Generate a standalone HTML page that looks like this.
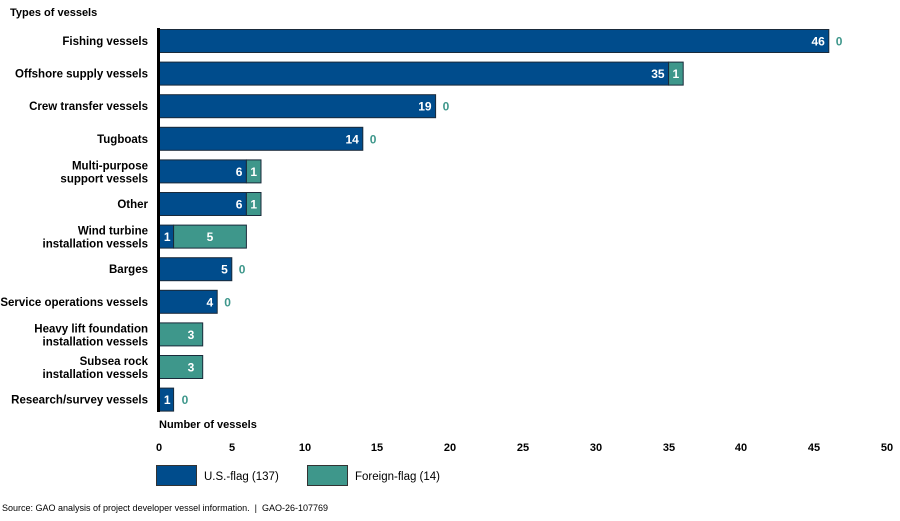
<!DOCTYPE html>
<html><head><meta charset="utf-8"><style>
body{margin:0;background:#fff;width:900px;height:516px;overflow:hidden}
text{font-family:"Liberation Sans",Arial,sans-serif}
.l{font-size:11.5px;font-weight:bold;text-anchor:end}
.v{font-size:12px;font-weight:bold;fill:#fff}
.z{font-size:12px;font-weight:bold;fill:#3e978b}
.u{fill:#004c8c;stroke:#1a2a3a;stroke-width:1}
.f{fill:#3e978b;stroke:#1a2a3a;stroke-width:1}
</style></head><body>
<svg width="900" height="516" xmlns="http://www.w3.org/2000/svg">
<text x="10" y="16" font-size="11" font-weight="bold">Types of vessels</text>

<text class="l" x="148" y="45">Fishing vessels</text>
<rect class="u" x="159" y="29.5" width="669.8" height="23"/>
<text class="v" x="824.8" y="45.5" text-anchor="end">46</text>
<text class="z" x="835.8" y="45.5">0</text>

<text class="l" x="148" y="77.6">Offshore supply vessels</text>
<rect class="u" x="159" y="62.1" width="509.6" height="23"/>
<rect class="f" x="668.6" y="62.1" width="14.6" height="23"/>
<text class="v" x="664.6" y="78.1" text-anchor="end">35</text>
<text class="v" x="675.9" y="78.1" text-anchor="middle">1</text>

<text class="l" x="148" y="110.2">Crew transfer vessels</text>
<rect class="u" x="159" y="94.7" width="276.6" height="23"/>
<text class="v" x="431.6" y="110.7" text-anchor="end">19</text>
<text class="z" x="442.6" y="110.7">0</text>

<text class="l" x="148" y="142.8">Tugboats</text>
<rect class="u" x="159" y="127.3" width="203.8" height="23"/>
<text class="v" x="358.8" y="143.3" text-anchor="end">14</text>
<text class="z" x="369.8" y="143.3">0</text>

<text class="l" x="148" y="169.4">Multi-purpose</text>
<text class="l" x="148" y="182.4">support vessels</text>
<rect class="u" x="159" y="159.9" width="87.4" height="23"/>
<rect class="f" x="246.4" y="159.9" width="14.6" height="23"/>
<text class="v" x="242.4" y="175.9" text-anchor="end">6</text>
<text class="v" x="253.7" y="175.9" text-anchor="middle">1</text>

<text class="l" x="148" y="208">Other</text>
<rect class="u" x="159" y="192.5" width="87.4" height="23"/>
<rect class="f" x="246.4" y="192.5" width="14.6" height="23"/>
<text class="v" x="242.4" y="208.5" text-anchor="end">6</text>
<text class="v" x="253.7" y="208.5" text-anchor="middle">1</text>

<text class="l" x="148" y="234.6">Wind turbine</text>
<text class="l" x="148" y="247.6">installation vessels</text>
<rect class="u" x="159" y="225.1" width="14.6" height="23"/>
<rect class="f" x="173.6" y="225.1" width="72.8" height="23"/>
<text class="v" x="170.6" y="241.1" text-anchor="end">1</text>
<text class="v" x="210" y="241.1" text-anchor="middle">5</text>

<text class="l" x="148" y="273.2">Barges</text>
<rect class="u" x="159" y="257.7" width="72.8" height="23"/>
<text class="v" x="227.8" y="273.7" text-anchor="end">5</text>
<text class="z" x="238.8" y="273.7">0</text>

<text class="l" x="148" y="305.8">Service operations vessels</text>
<rect class="u" x="159" y="290.3" width="58.2" height="23"/>
<text class="v" x="213.2" y="306.3" text-anchor="end">4</text>
<text class="z" x="224.2" y="306.3">0</text>

<text class="l" x="148" y="332.4">Heavy lift foundation</text>
<text class="l" x="148" y="345.4">installation vessels</text>
<rect class="f" x="159" y="322.9" width="43.7" height="23"/>
<text class="v" x="191" y="338.9" text-anchor="middle">3</text>

<text class="l" x="148" y="365">Subsea rock</text>
<text class="l" x="148" y="378">installation vessels</text>
<rect class="f" x="159" y="355.5" width="43.7" height="23"/>
<text class="v" x="191" y="371.5" text-anchor="middle">3</text>

<text class="l" x="148" y="403.6">Research/survey vessels</text>
<rect class="u" x="159" y="388.1" width="14.6" height="23"/>
<text class="v" x="170.6" y="404.1" text-anchor="end">1</text>
<text class="z" x="181.6" y="404.1">0</text>

<line x1="158.5" y1="28" x2="158.5" y2="412" stroke="#000" stroke-width="3"/>
<text x="159" y="428" font-size="11" font-weight="bold">Number of vessels</text>
<g font-size="11" font-weight="bold" text-anchor="middle">
<text x="159" y="451">0</text><text x="232" y="451">5</text><text x="305" y="451">10</text><text x="377" y="451">15</text><text x="450" y="451">20</text><text x="523" y="451">25</text><text x="596" y="451">30</text><text x="669" y="451">35</text><text x="741" y="451">40</text><text x="814" y="451">45</text><text x="887" y="451">50</text>
</g>
<rect x="156.5" y="465.5" width="40" height="20" fill="#004c8c" stroke="#333"/>
<text x="204" y="480" font-size="11.5">U.S.-flag (137)</text>
<rect x="307.5" y="465.5" width="40" height="20" fill="#3e978b" stroke="#333"/>
<text x="355" y="480" font-size="11.5">Foreign-flag (14)</text>
<text x="2" y="511" font-size="9" xml:space="preserve">Source: GAO analysis of project developer vessel information.  |  GAO-26-107769</text>
</svg>
</body></html>
